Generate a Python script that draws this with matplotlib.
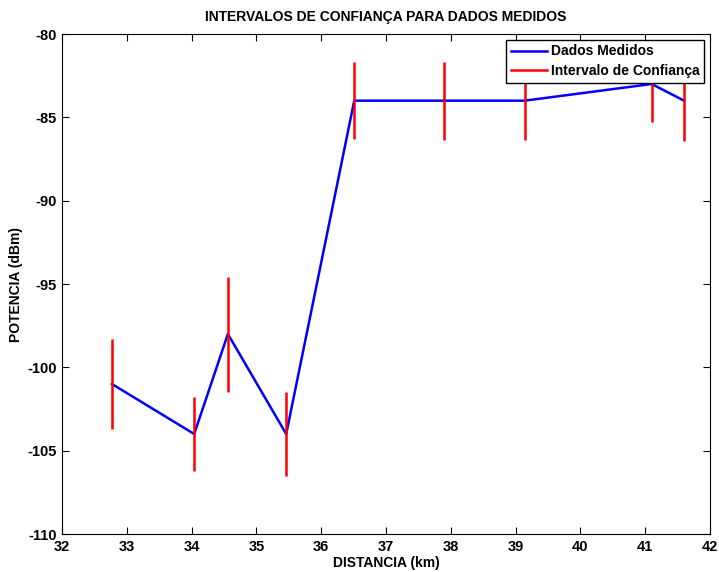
import matplotlib
matplotlib.use('Agg')
import matplotlib.pyplot as plt
from matplotlib.lines import Line2D

plt.rcParams['font.family'] = ['Liberation Sans', 'DejaVu Sans']
plt.rcParams['font.weight'] = 'bold'
plt.rcParams['axes.unicode_minus'] = False

distancia = [32.77, 34.04, 34.56, 35.46, 36.51, 37.90, 39.14, 41.10, 41.60]
potencia = [-101, -104, -98, -104, -84, -84, -84, -83, -84]
erro = [2.7, 2.2, 3.45, 2.5, 2.3, 2.35, 2.35, 2.3, 2.4]

fig = plt.figure(figsize=(7.19, 5.72), dpi=100)
ax = fig.add_axes([62 / 719, 38 / 572, 648 / 719, 500 / 572])

ax.plot(distancia, potencia, color='blue', lw=1.8)
ax.errorbar(distancia, potencia, yerr=erro, fmt='none', ecolor='red',
            elinewidth=1.8, capsize=0)

ax.set_xlim(32, 42)
ax.set_ylim(-110, -80)
ax.set_xticks(range(32, 43))
ax.set_yticks(range(-110, -79, 5))
ax.tick_params(direction='in', top=True, right=True, labelsize=10.5,
               length=5, pad=4)
for lbl in ax.get_xticklabels() + ax.get_yticklabels():
    lbl.set_fontweight('bold')

ax.set_title('INTERVALOS DE CONFIANÇA PARA DADOS MEDIDOS', fontsize=10,
             fontweight='bold', pad=9)
ax.set_xlabel('DISTANCIA (km)', fontsize=10, fontweight='bold', labelpad=2)
ax.set_ylabel('POTENCIA (dBm)', fontsize=10, fontweight='bold')
ax.yaxis.set_label_coords(-0.06, 0.5)

handles = [Line2D([], [], color='blue', lw=1.8),
           Line2D([], [], color='red', lw=1.8)]
leg = ax.legend(handles, ['Dados Medidos', 'Intervalo de Confiança'],
                loc='upper right', fontsize=10, fancybox=False, framealpha=1,
                edgecolor='black', borderaxespad=0.4, handlelength=2.6,
                labelspacing=0.4, borderpad=0.35, handletextpad=0.3)
leg.get_frame().set_linewidth(1)
for t in leg.get_texts():
    t.set_fontweight('bold')

fig.savefig('out.png', dpi=100)
